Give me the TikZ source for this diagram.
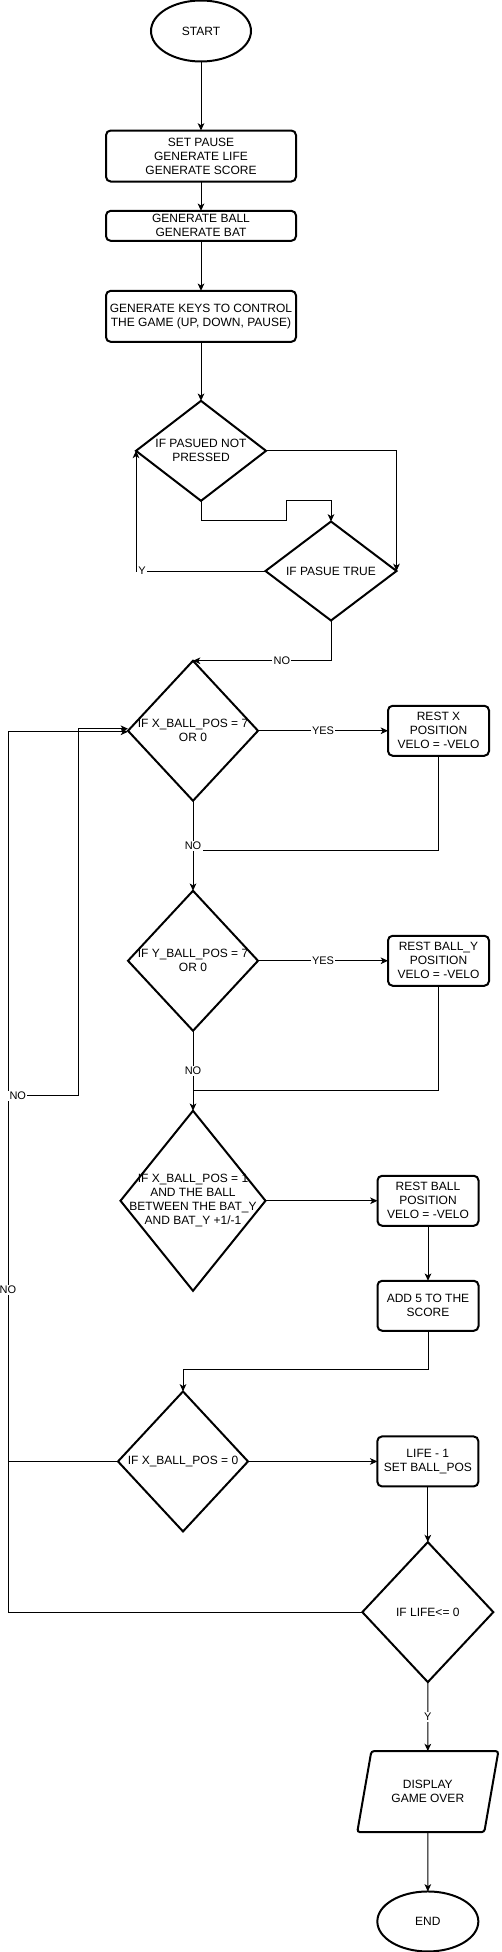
\documentclass[tikz,border=0pt]{standalone}
\usepackage{fontspec}
\setmainfont{Liberation Sans}
\usetikzlibrary{positioning,arrows.meta,shapes.geometric,calc}

\begin{document}
\begin{tikzpicture}[
    x=0.75pt, y=-0.75pt,
    >={Stealth[length=5.5pt,width=5pt,inset=1.5pt]},
    font=\fontsize{9}{10.5}\selectfont,
    every node/.style={align=center},
    terminal/.style={ellipse, draw, line width=1.5pt, inner sep=0pt, outer sep=0pt},
    procbox/.style={rectangle, draw, line width=1.5pt, rounded corners=3.5pt,
                    minimum width=75.75pt, minimum height=37.5pt, inner sep=1pt,
                    outer sep=0pt},
    widebox/.style={procbox, minimum width=142.5pt, minimum height=38.25pt},
    decision/.style={diamond, draw, line width=1.5pt, inner sep=0pt, outer sep=0pt,
                     minimum width=97.5pt, minimum height=105pt},
    dtext/.style={align=center, inner sep=0pt},
    iobox/.style={trapezium, trapezium left angle=68, trapezium right angle=112,
                  trapezium stretches=true, draw, line width=1.5pt,
                  rounded corners=2pt, minimum width=106.5pt,
                  minimum height=60.75pt, inner sep=0pt, outer sep=0pt},
    flow/.style={->, line width=0.75pt},
    link/.style={line width=0.75pt},
    lbl/.style={font=\fontsize{8.25}{9.5}\selectfont, fill=white, inner sep=1pt}
  ]
  \useasboundingbox (0,0) rectangle (502,1952);

  % Setup column.
  \node[terminal, minimum width=75pt, minimum height=45.75pt] (start) at (201,31) {START};
  \node[widebox, below=51.75pt of start] (init) {SET PAUSE\\GENERATE LIFE\\GENERATE SCORE};
  \node[widebox, minimum height=22.5pt, below=22pt of init] (gen) {GENERATE BALL\\GENERATE BAT};
  \node[widebox, below=37.5pt of gen] (keys) {GENERATE KEYS TO CONTROL\\THE GAME (UP, DOWN, PAUSE)};

  % Pause handling.
  \node[decision, minimum height=75pt, below=44.25pt of keys,
        label={[dtext, name=d1t]center:{IF PASUED NOT\\PRESSED}}] (d1) {};
  \node[decision, minimum width=98.25pt, minimum height=74.25pt,
        below=15.5pt of d1, xshift=97.5pt,
        label={[dtext, name=d2t]center:{IF PASUE TRUE}}] (d2) {};

  % Wall checks.
  \node[decision, below=30.2pt of d2, xshift=-103.5pt,
        label={[dtext, name=d3t]center:{IF X\_BALL\_POS = 7\\OR 0}}] (d3) {};
  \node[procbox, right=97.5pt of d3] (rx) {REST X\\POSITION\\VELO = -VELO};
  \node[decision, below=67.5pt of d3,
        label={[dtext, name=d4t]center:{IF Y\_BALL\_POS = 7\\OR 0}}] (d4) {};
  \node[procbox, right=97.5pt of d4] (ry) {REST BALL\_Y\\POSITION\\VELO = -VELO};

  % Bat hit.
  \node[decision, minimum width=108.75pt, minimum height=135pt, below=60pt of d4,
        label={[dtext, name=d5t]center:{IF X\_BALL\_POS = 1\\AND THE BALL\\BETWEEN THE BAT\_Y\\AND BAT\_Y +1/-1}}] (d5) {};
  \node[procbox, right=84pt of d5] (rb) {REST BALL\\POSITION\\VELO = -VELO};
  \node[procbox, below=41.25pt of rb] (add) {ADD 5 TO THE\\SCORE};

  % Ball lost.
  \node[decision, below=75.5pt of d5, xshift=-7.5pt,
        label={[dtext, name=d6t]center:{IF X\_BALL\_POS = 0}}] (d6) {};
  \node[procbox, right=97pt of d6] (life) {LIFE - 1\\SET BALL\_POS};
  \node[decision, minimum width=98.25pt, below=41.75pt of life,
        label={[dtext, name=d7t]center:{IF LIFE<= 0}}] (d7) {};
  \node[iobox, below=51.75pt of d7] (over) {DISPLAY\\GAME OVER};
  \node[terminal, minimum width=75.75pt, minimum height=45pt, below=44.5pt of over] (stop) {END};

  % Setup edges.
  \draw[flow] (start) -- (init);
  \draw[flow] (init) -- (gen);
  \draw[flow] (gen) -- (keys);
  \draw[flow] (keys) -- (d1);

  % Pause loop.
  \draw[flow] (d1.east) -| (d2.east);
  \draw[flow] (d1.south) -- ++(0,20) -| ++(85,-20) -| (d2.north);
  \draw[flow] (d2.west) -| node[lbl, pos=0.477] {Y} (d1.west);
  \draw[flow] (d2.south) |- node[lbl, pos=0.678] {NO} (d3.north);

  % X and Y walls.
  \coordinate (j1) at ($(d3.south)+(0,50)$);
  \coordinate (j2) at ($(d4.south)+(0,60)$);
  \draw[flow] (d3) -- node[lbl] {YES} (rx);
  \draw[link] (rx.south) |- (j1);
  \draw[flow] (d3) -- node[lbl] {NO} (d4);
  \draw[flow] (d4) -- node[lbl] {YES} (ry);
  \draw[link] (ry.south) |- (j2);
  \draw[flow] (d4) -- node[lbl] {NO} (d5);

  % Bat and score.
  \draw[flow] (d5) -- (rb);
  \draw[flow] (rb) -- (add);
  \draw[flow] (add.south) -- ++(0,39) -| (d6.north);

  % Life lost, game over.
  \draw[flow] (d6) -- (life);
  \draw[flow] (life) -- (d7);
  \draw[flow] (d7) -- node[lbl] {Y} (over);
  \draw[flow] (over) -- (stop);

  % Return rails on the left.
  \coordinate (railL) at ($(d3.west)+(-120,1)$);
  \coordinate (railS) at ($(railL |- d5.north)+(0,-15)$);
  \coordinate (inS) at ($(d3.west)+(-50,-2)$);
  \draw[link] (d6.west) -- (d6.west -| railL);
  \draw[flow] (d7.west) -| node[lbl, pos=0.683] {NO} (railL) -- (d3.west |- railL);
  \draw[flow] (railS) -| node[lbl, pos=0.07] {NO} (inS) -- (d3.west |- inS);

\end{tikzpicture}
\end{document}
